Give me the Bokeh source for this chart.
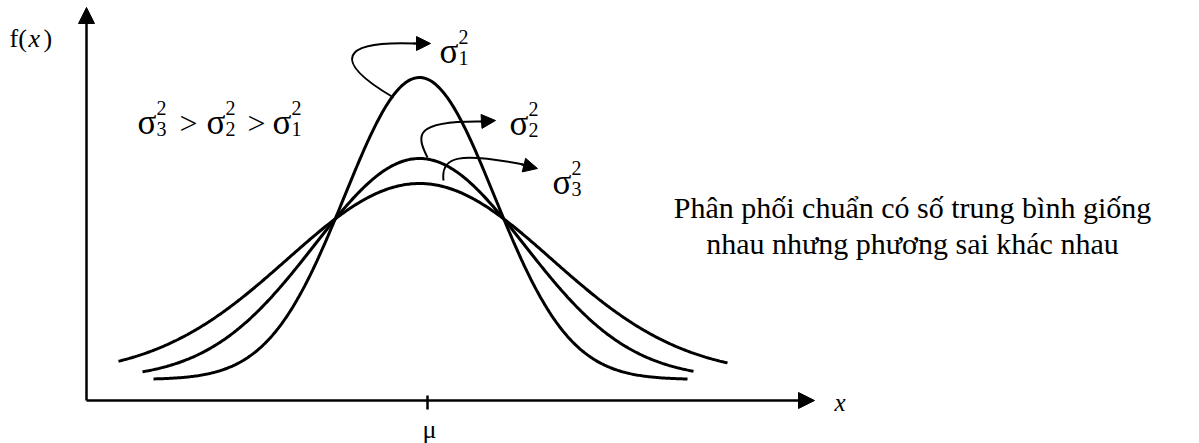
import numpy as np
from bokeh.plotting import figure
from bokeh.models import Range1d, Arrow, NormalHead
from bokeh.core.properties import value
from bokeh.embed import file_html
from bokeh.resources import INLINE

# ---------------- data ----------------
curve_names = ["sigma1", "sigma2", "sigma3"]
mean_x = 333                      # common mean (mu)
sigmas = [75, 105, 132]           # spread of each curve (sigma1 < sigma2 < sigma3)
peak_heights = [302, 220, 192]    # height of each bell above its own base
base_levels = [21, 22, 25]        # level of each curve's tail
left_extent = [266, 277, 301]     # how far each curve is drawn left of the mean
right_extent = [268, 274, 308]    # how far each curve is drawn right of the mean
mu_tick = 341
mu_label = "μ"
x_label = "x"
caption_lines = ["Phân phối chuẩn có số trung bình giống",
                 "nhau nhưng phương sai khác nhau"]
curve_indices = ["1", "2", "3"]

# ---------------- layout ----------------
W, H = 1199, 443
OX, OY = 86, 400  # screen position of the axes' origin


def X(sx):
    return sx - OX


def Y(sy):
    return OY - sy


SERIF = value("Liberation Serif")

p = figure(width=W, height=H,
           x_range=Range1d(X(0), X(W)), y_range=Range1d(Y(H), Y(0)),
           output_backend="svg", toolbar_location=None,
           x_axis_type=None, y_axis_type=None, min_border=0)
p.outline_line_color = None
p.background_fill_color = "white"
p.border_fill_color = "white"

# curves
for s, hgt, b, lo, hi in zip(sigmas, peak_heights, base_levels, left_extent, right_extent):
    xs = np.linspace(mean_x - lo, mean_x + hi, 400)
    ys = b + hgt * np.exp(-((xs - mean_x) ** 2) / (2 * s ** 2))
    p.line(xs, ys, line_color="black", line_width=3)

# axes with arrows
p.add_layout(Arrow(end=NormalHead(size=16, fill_color="black", line_color="black"),
                   x_start=0, y_start=0, x_end=X(814), y_end=0,
                   line_width=2.5, line_color="black"))
p.add_layout(Arrow(end=NormalHead(size=16, fill_color="black", line_color="black"),
                   x_start=0, y_start=0, x_end=0, y_end=Y(7),
                   line_width=2.5, line_color="black"))

# mu tick
p.segment(x0=[mu_tick], y0=[Y(395)], x1=[mu_tick], y1=[Y(409)], line_color="black", line_width=2.5)
p.text(x=[mu_tick + 2], y=[Y(429)], text=[mu_label], text_font=SERIF, text_font_size="26px",
       text_align="center", text_baseline="alphabetic", text_color="black")

# x label
p.text(x=[X(834)], y=[Y(402)], text=[x_label], text_font=SERIF, text_font_size="25px",
       text_font_style="italic", text_align="left", text_baseline="alphabetic", text_color="black")

# f(x)
p.text(x=[X(9)], y=[Y(38)], text=["f("], text_font=SERIF, text_font_size="26px",
       text_align="left", text_baseline="alphabetic", text_color="black")
p.text(x=[X(28)], y=[Y(38)], text=["x"], text_font=SERIF, text_font_size="26px",
       text_font_style="italic", text_align="left", text_baseline="alphabetic", text_color="black")
p.text(x=[X(43)], y=[Y(38)], text=[")"], text_font=SERIF, text_font_size="26px",
       text_align="left", text_baseline="alphabetic", text_color="black")


def sigma_sq(sx, sy, idx):
    """sigma with superscript 2 and subscript idx; sx = left, sy = baseline (screen)."""
    p.text(x=[X(sx)], y=[Y(sy)], text=["σ"], text_font=SERIF, text_font_size="35px",
           text_align="left", text_baseline="alphabetic", text_color="black")
    p.text(x=[X(sx + 19)], y=[Y(sy - 15)], text=["2"], text_font=SERIF, text_font_size="20px",
           text_align="left", text_baseline="alphabetic", text_color="black")
    p.text(x=[X(sx + 19)], y=[Y(sy + 6)], text=[idx], text_font=SERIF, text_font_size="20px",
           text_align="left", text_baseline="alphabetic", text_color="black")


# inequality
sigma_sq(137, 122, curve_indices[2])
p.text(x=[X(179)], y=[Y(122)], text=[">"], text_font=SERIF, text_font_size="32px",
       text_align="left", text_baseline="alphabetic", text_color="black")
sigma_sq(206, 122, curve_indices[1])
p.text(x=[X(247)], y=[Y(122)], text=[">"], text_font=SERIF, text_font_size="32px",
       text_align="left", text_baseline="alphabetic", text_color="black")
sigma_sq(272, 122, curve_indices[0])

# curve labels with curved arrows
sigma_sq(439, 51, curve_indices[0])
sigma_sq(509, 123, curve_indices[1])
sigma_sq(552, 182, curve_indices[2])

beziers = [
    ((393, 97), (330, 60), (340, 40), (415, 43), (430, 43)),
    ((427, 157), (416, 135), (412, 120), (482, 121), (495, 120)),
    ((443, 180), (440, 155), (460, 152), (523, 164), (537, 168)),
]
for (s0, c0, c1, e, tip) in beziers:
    p.bezier(x0=[X(s0[0])], y0=[Y(s0[1])], cx0=[X(c0[0])], cy0=[Y(c0[1])],
             cx1=[X(c1[0])], cy1=[Y(c1[1])], x1=[X(e[0])], y1=[Y(e[1])],
             line_color="black", line_width=2)
    p.add_layout(Arrow(end=NormalHead(size=14, fill_color="black", line_color="black"),
                       x_start=X(e[0] - 2), y_start=Y(e[1]), x_end=X(tip[0]), y_end=Y(tip[1]),
                       line_width=2, line_color="black"))

# caption
p.text(x=[X(912), X(912)], y=[Y(207), Y(243)], text=caption_lines, text_font=SERIF,
       text_font_size="30px", text_align="center", text_baseline="alphabetic", text_color="black")

open("out.html", "w").write(file_html(p, INLINE))
